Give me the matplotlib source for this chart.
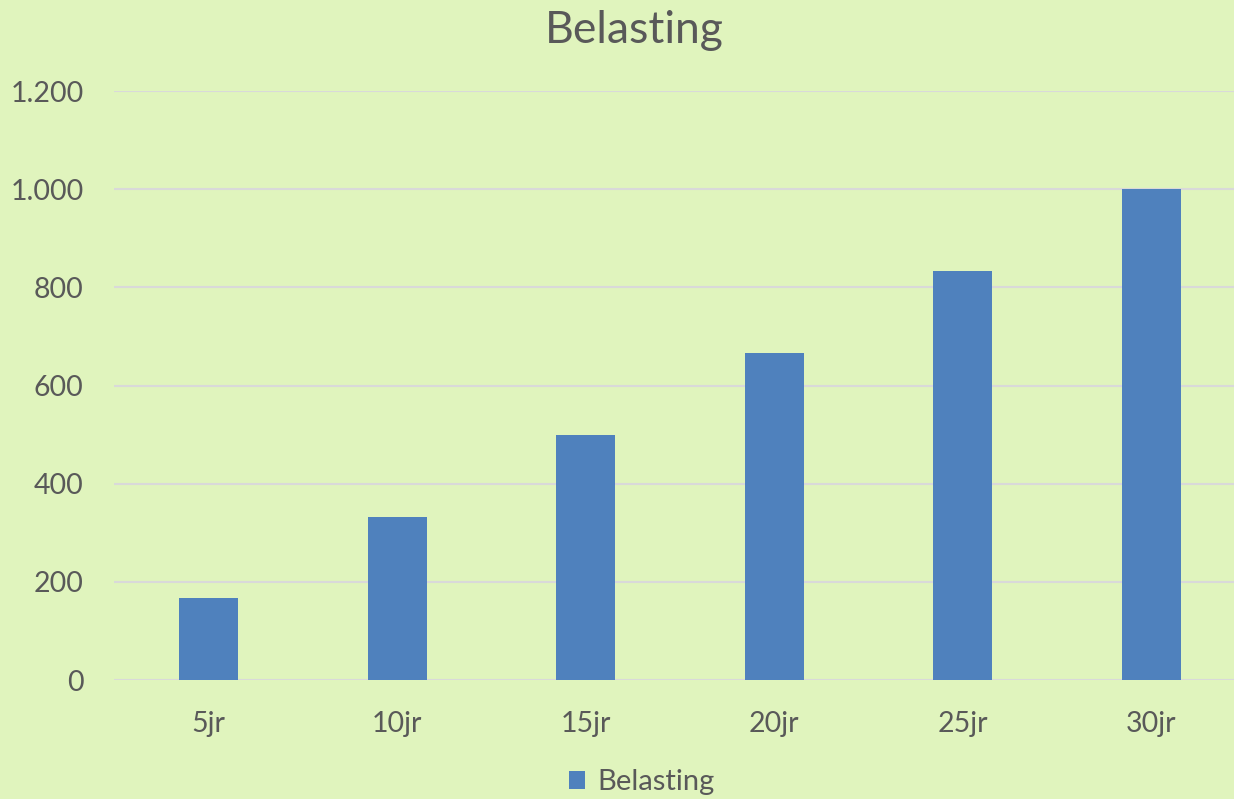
import matplotlib.pyplot as plt
from matplotlib.ticker import FuncFormatter

categories = ['5jr', '10jr', '15jr', '20jr', '25jr', '30jr']
belasting = [167, 333, 500, 667, 833, 1000]
y_ticks = [0, 200, 400, 600, 800, 1000, 1200]

bg = '#E0F4BD'
txt = '#595959'

plt.rcParams['font.family'] = ['Lato', 'DejaVu Sans']

fig = plt.figure(figsize=(12.34, 7.99), dpi=100, facecolor=bg)
ax = fig.add_axes([0.0925, 0.1489, 0.917, 0.7372])
ax.set_facecolor(bg)

x = range(len(categories))
ax.bar(x, belasting, width=0.313, color='#4F81BD', label='Belasting', zorder=3)

ax.set_xlim(-0.5, len(categories) - 0.5)
ax.set_ylim(0, 1200)
ax.set_yticks(y_ticks)
ax.yaxis.set_major_formatter(FuncFormatter(lambda v, p: f'{int(v):,}'.replace(',', '.')))
ax.set_xticks(list(x))
ax.set_xticklabels(categories)

ax.grid(axis='y', color='#D9D9D9', linewidth=1.5, zorder=0)
for s in ax.spines.values():
    s.set_visible(False)
ax.tick_params(axis='both', length=0, colors=txt, labelsize=20.5)
ax.tick_params(axis='y', pad=22)
ax.tick_params(axis='x', pad=22)

fig.suptitle('Belasting', x=0.514, y=0.988, va='top', fontsize=32, color=txt)

fig.legend(loc='lower center', bbox_to_anchor=(0.52, -0.028), frameon=False,
           fontsize=21, handlelength=0.55, handleheight=0.55, handletextpad=0.4,
           labelcolor=txt)

fig.savefig('out.png', dpi=100, facecolor=bg)
